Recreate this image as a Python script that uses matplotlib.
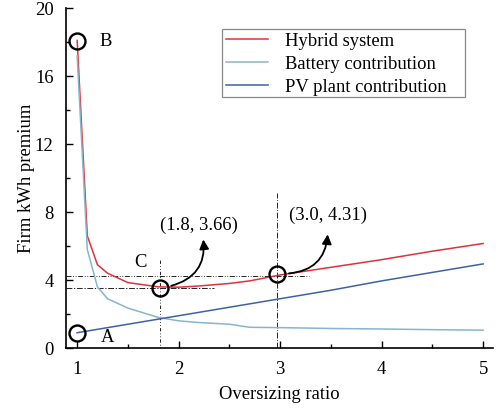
import matplotlib
matplotlib.use("Agg")
import matplotlib.pyplot as plt
from matplotlib.patches import FancyArrowPatch, Rectangle
from matplotlib.ticker import MultipleLocator

plt.rcParams['font.family'] = ['Liberation Serif', 'DejaVu Serif']
plt.rcParams['mathtext.fontset'] = 'stix'

# ---- data ----
oversizing = [1.0, 1.1, 1.2, 1.3, 1.5, 1.8, 2.0, 2.2, 2.5, 2.7, 3.0, 3.5, 4.0, 4.5, 5.0]
hybrid =     [18.1, 6.6, 4.9, 4.4, 3.85, 3.6, 3.58, 3.65, 3.8, 3.95, 4.3, 4.75, 5.2, 5.7, 6.15]
battery =    [17.2, 5.8, 3.6, 2.9, 2.35, 1.8, 1.6, 1.5, 1.4, 1.22, 1.2, 1.15, 1.12, 1.08, 1.05]
pv =         [0.9, 1.0, 1.1, 1.2, 1.4, 1.7, 1.9, 2.1, 2.4, 2.6, 2.9, 3.4, 3.95, 4.45, 4.95]

series_labels = ["Hybrid system", "Battery contribution", "PV plant contribution"]
series_colors = ["#e3303a", "#86b6cc", "#3d62a4"]

x_ticks = [1, 2, 3, 4, 5]
y_ticks = [0, 4, 8, 12, 16, 20]

pt_A = (1.0, 0.88)
pt_B = (1.0, 18.05)
pt_C = (1.82, 3.55)
pt_D = (2.97, 4.35)
label_C = "(1.8, 3.66)"
label_D = "(3.0, 4.31)"

FS = 13.4

fig = plt.figure(figsize=(4.98, 4.08), dpi=100)
ax = fig.add_axes([0.1325, 0.147, 0.858, 0.833])

ax.plot(oversizing, hybrid, color=series_colors[0], lw=1.1, label=series_labels[0], zorder=3)
ax.plot(oversizing, battery, color=series_colors[1], lw=1.1, label=series_labels[1], zorder=3)
ax.plot(oversizing, pv, color=series_colors[2], lw=1.1, label=series_labels[2], zorder=3)

# reference lines
ax.plot([0.89, 3.28], [4.22, 4.22], color='black', lw=0.6, dashes=(6, 2, 1, 2, 1, 2), zorder=2)
ax.plot([0.89, 2.35], [3.53, 3.53], color='black', lw=0.6, dashes=(7, 2, 1.5, 2), zorder=2)
ax.plot([1.82, 1.82], [0, 5.2], color='black', lw=0.6, dashes=(1, 2.5, 1, 2.5, 4, 2.5), zorder=2)
ax.plot([2.97, 2.97], [0, 9.1], color='black', lw=0.6, dashes=(7, 2, 1, 2), zorder=2)

# circles
for p in (pt_A, pt_B, pt_C, pt_D):
    ax.plot(p[0], p[1], marker='o', ms=11.5, mfc='none', mec='black', mew=1.7, zorder=5, clip_on=False)

ax.text(1.30, 0.6, "A", fontsize=FS, ha='center', va='center')
ax.text(1.28, 18.05, "B", fontsize=FS, ha='center', va='center')
ax.text(1.62, 5.06, "C", fontsize=FS, ha='center', va='center')
ax.text(2.2, 7.2, label_C, fontsize=FS, ha='center', va='center')
ax.text(3.47, 7.8, label_D, fontsize=FS, ha='center', va='center')

for start, end in (((1.9, 3.62), (2.24, 6.55)), ((3.06, 4.38), (3.47, 6.85))):
    arr = FancyArrowPatch(start, end, connectionstyle="arc3,rad=0.45",
                          arrowstyle='-|>', mutation_scale=14, color='black', lw=1.3, zorder=6)
    ax.add_patch(arr)

ax.set_xlim(0.89, 5.1)
ax.set_ylim(0, 20)
ax.set_xticks(x_ticks)
ax.set_yticks(y_ticks)
ax.xaxis.set_minor_locator(MultipleLocator(0.5))
ax.yaxis.set_minor_locator(MultipleLocator(2))
ax.tick_params(which='both', direction='in', labelsize=FS, width=1)
ax.tick_params(which='major', length=5)
ax.tick_params(which='minor', length=3)
ax.tick_params(axis='x', which='major', pad=9)
ax.tick_params(axis='y', which='major', pad=9)
for s in ('top', 'right'):
    ax.spines[s].set_visible(False)
for s in ('left', 'bottom'):
    ax.spines[s].set_linewidth(1.2)

ax.set_xlabel("Oversizing ratio", fontsize=FS, labelpad=6)
ax.set_ylabel("Firm kWh premium", fontsize=FS, labelpad=-0.5)

# legend frame drawn as a box, legend entries inside it
ax.add_patch(Rectangle((0.365, 0.738), 0.569, 0.2, transform=ax.transAxes,
                       facecolor='white', edgecolor='#888888', lw=0.9, zorder=7))
leg = ax.legend(loc='upper left', bbox_to_anchor=(0.365, 0.938), borderaxespad=0,
                fontsize=FS, frameon=False,
                handlelength=2.25, labelspacing=0.31, borderpad=0.2, handletextpad=0.95)
leg.set_zorder(8)

fig.savefig("out.png", dpi=100)
